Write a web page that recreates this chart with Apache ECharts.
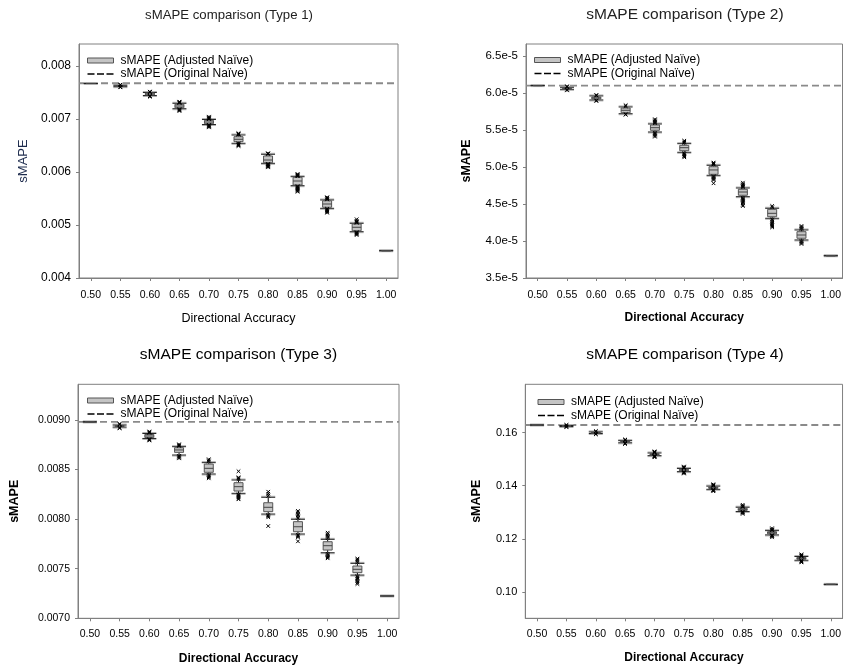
<!DOCTYPE html>
<html>
<head>
<meta charset="utf-8">
<script src="https://cdn.jsdelivr.net/npm/echarts@6/dist/echarts.min.js"></script>
<style>html,body{margin:0;padding:0;background:#fff}#c{width:844px;height:668px}</style>
</head>
<body>
<div id="c"></div>
<script>
// ---------------- DATA ----------------
const categories = [0.50, 0.55, 0.60, 0.65, 0.70, 0.75, 0.80, 0.85, 0.90, 0.95, 1.00];
const panelTitles = ['sMAPE comparison (Type 1)', 'sMAPE comparison (Type 2)', 'sMAPE comparison (Type 3)', 'sMAPE comparison (Type 4)'];
const seriesAdjusted = 'sMAPE (Adjusted Naïve)';
const seriesOriginal = 'sMAPE (Original Naïve)';
const xAxisTitle = 'Directional Accuracy';
const yAxisTitle = 'sMAPE';

// box values per category: [p10, q1, median, q3, p90]
const type1Boxes = [
  [0.007670, 0.007670, 0.007670, 0.007670, 0.007670],
  [0.007610, 0.007617, 0.007623, 0.007628, 0.007636],
  [0.007443, 0.007453, 0.007472, 0.007491, 0.007500],
  [0.007194, 0.007213, 0.007245, 0.007277, 0.007296],
  [0.006896, 0.006911, 0.006943, 0.006975, 0.006990],
  [0.006542, 0.006572, 0.006617, 0.006666, 0.006698],
  [0.006164, 0.006175, 0.006226, 0.006302, 0.006334],
  [0.005742, 0.005755, 0.005830, 0.005900, 0.005911],
  [0.005315, 0.005334, 0.005396, 0.005458, 0.005472],
  [0.004874, 0.004892, 0.004957, 0.005019, 0.005032],
  [0.004515, 0.004515, 0.004515, 0.004515, 0.004515]
];
const type1Outliers = [
  [],
  [0.007642, 0.007648, 0.007604, 0.007598],
  [0.007506, 0.007511, 0.007515, 0.007437, 0.007430, 0.007421],
  [0.007303, 0.007310, 0.007318, 0.007326, 0.007186, 0.007176, 0.007164, 0.007151],
  [0.006998, 0.007008, 0.007018, 0.007030, 0.007043, 0.006888, 0.006878, 0.006866, 0.006855, 0.006843],
  [0.006706, 0.006714, 0.006722, 0.006730, 0.006534, 0.006524, 0.006513, 0.006502, 0.006491],
  [0.006341, 0.006347, 0.006353, 0.006156, 0.006145, 0.006134, 0.006122, 0.006111, 0.006100, 0.006089],
  [0.005921, 0.005931, 0.005942, 0.005952, 0.005962, 0.005732, 0.005718, 0.005703, 0.005688, 0.005673, 0.005658, 0.005643, 0.005628],
  [0.005482, 0.005494, 0.005506, 0.005515, 0.005523, 0.005305, 0.005292, 0.005278, 0.005263, 0.005248, 0.005232],
  [0.005042, 0.005052, 0.005064, 0.005078, 0.005108, 0.004864, 0.004852, 0.004840, 0.004827, 0.004811],
  []
];
const type1Original = 0.007674;

const type2Boxes = [
  [6.100e-5, 6.100e-5, 6.100e-5, 6.100e-5, 6.100e-5],
  [6.050e-5, 6.057e-5, 6.064e-5, 6.070e-5, 6.077e-5],
  [5.906e-5, 5.919e-5, 5.933e-5, 5.946e-5, 5.960e-5],
  [5.720e-5, 5.734e-5, 5.766e-5, 5.797e-5, 5.811e-5],
  [5.473e-5, 5.496e-5, 5.531e-5, 5.568e-5, 5.581e-5],
  [5.199e-5, 5.220e-5, 5.261e-5, 5.293e-5, 5.315e-5],
  [4.888e-5, 4.901e-5, 4.960e-5, 5.004e-5, 5.023e-5],
  [4.599e-5, 4.618e-5, 4.662e-5, 4.699e-5, 4.716e-5],
  [4.307e-5, 4.328e-5, 4.374e-5, 4.428e-5, 4.442e-5],
  [4.014e-5, 4.037e-5, 4.081e-5, 4.126e-5, 4.149e-5],
  [3.801e-5, 3.801e-5, 3.801e-5, 3.801e-5, 3.801e-5]
];
const type2Outliers = [
  [],
  [6.083e-5, 6.090e-5, 6.044e-5, 6.036e-5],
  [5.966e-5, 5.973e-5, 5.899e-5, 5.892e-5],
  [5.822e-5, 5.834e-5, 5.713e-5, 5.707e-5],
  [5.592e-5, 5.605e-5, 5.618e-5, 5.632e-5, 5.645e-5, 5.462e-5, 5.450e-5, 5.437e-5, 5.423e-5, 5.410e-5],
  [5.327e-5, 5.341e-5, 5.355e-5, 5.186e-5, 5.172e-5, 5.158e-5, 5.145e-5, 5.131e-5],
  [5.035e-5, 5.047e-5, 5.059e-5, 4.876e-5, 4.863e-5, 4.850e-5, 4.837e-5, 4.824e-5, 4.780e-5],
  [4.729e-5, 4.742e-5, 4.755e-5, 4.768e-5, 4.788e-5, 4.585e-5, 4.570e-5, 4.555e-5, 4.540e-5, 4.525e-5, 4.510e-5, 4.490e-5, 4.473e-5],
  [4.455e-5, 4.473e-5, 4.293e-5, 4.278e-5, 4.262e-5, 4.246e-5, 4.230e-5, 4.215e-5, 4.200e-5, 4.185e-5],
  [4.162e-5, 4.176e-5, 4.190e-5, 4.203e-5, 4.000e-5, 3.987e-5, 3.973e-5, 3.960e-5],
  []
];
const type2Original = 6.10e-5;

const type3Boxes = [
  [0.008980, 0.008980, 0.008980, 0.008980, 0.008980],
  [0.008928, 0.008933, 0.008938, 0.008943, 0.008948],
  [0.008813, 0.008823, 0.008838, 0.008853, 0.008863],
  [0.008646, 0.008673, 0.008697, 0.008720, 0.008730],
  [0.008455, 0.008472, 0.008512, 0.008555, 0.008569],
  [0.008260, 0.008283, 0.008327, 0.008367, 0.008394],
  [0.008051, 0.008075, 0.008119, 0.008165, 0.008220],
  [0.007850, 0.007873, 0.007923, 0.007974, 0.007998],
  [0.007661, 0.007688, 0.007732, 0.007772, 0.007796],
  [0.007436, 0.007460, 0.007494, 0.007527, 0.007554],
  [0.007225, 0.007225, 0.007225, 0.007225, 0.007225]
];
const type3Outliers = [
  [],
  [0.008955, 0.008960, 0.008921, 0.008916],
  [0.008870, 0.008876, 0.008883, 0.008806, 0.008800, 0.008793],
  [0.008738, 0.008746, 0.008754, 0.008638, 0.008630, 0.008621, 0.008613],
  [0.008581, 0.008592, 0.008603, 0.008445, 0.008433, 0.008422, 0.008411],
  [0.008403, 0.008412, 0.008421, 0.008482, 0.008250, 0.008240, 0.008230, 0.008220, 0.008210, 0.008200],
  [0.008235, 0.008255, 0.008276, 0.008042, 0.008030, 0.008018, 0.007930],
  [0.008012, 0.008026, 0.008040, 0.008054, 0.008068, 0.008082, 0.007840, 0.007828, 0.007817, 0.007776],
  [0.007808, 0.007820, 0.007833, 0.007848, 0.007863, 0.007650, 0.007638, 0.007626, 0.007615, 0.007605],
  [0.007565, 0.007578, 0.007590, 0.007601, 0.007425, 0.007412, 0.007400, 0.007387, 0.007374, 0.007360, 0.007346],
  []
];
const type3Original = 0.008980;

const type4Boxes = [
  [0.16290, 0.16290, 0.16290, 0.16290, 0.16290],
  [0.16234, 0.16243, 0.16253, 0.16263, 0.16272],
  [0.15970, 0.15985, 0.16000, 0.16015, 0.16030],
  [0.15620, 0.15640, 0.15660, 0.15680, 0.15700],
  [0.15135, 0.15160, 0.15185, 0.15210, 0.15235],
  [0.14532, 0.14562, 0.14592, 0.14622, 0.14652],
  [0.13865, 0.13895, 0.13925, 0.13955, 0.13985],
  [0.13029, 0.13069, 0.13109, 0.13149, 0.13189],
  [0.12146, 0.12186, 0.12226, 0.12266, 0.12306],
  [0.11190, 0.11225, 0.11260, 0.11295, 0.11330],
  [0.10279, 0.10279, 0.10279, 0.10279, 0.10279]
];
const type4Outliers = [
  [],
  [0.16280, 0.16293, 0.16225, 0.16213],
  [0.16040, 0.16060, 0.15960, 0.15940],
  [0.15710, 0.15730, 0.15740, 0.15610, 0.15590, 0.15580],
  [0.15245, 0.15260, 0.15275, 0.15295, 0.15125, 0.15110, 0.15095, 0.15075],
  [0.14665, 0.14680, 0.14698, 0.14722, 0.14520, 0.14505, 0.14487, 0.14462],
  [0.13998, 0.14012, 0.14030, 0.14055, 0.13852, 0.13838, 0.13820, 0.13795],
  [0.13200, 0.13218, 0.13238, 0.13279, 0.13018, 0.13000, 0.12980, 0.12939],
  [0.12318, 0.12335, 0.12355, 0.12396, 0.12134, 0.12117, 0.12097, 0.12056],
  [0.11342, 0.11358, 0.11375, 0.11410, 0.11178, 0.11162, 0.11145, 0.11110],
  []
];
const type4Original = 0.16290;

// y-axis tick values and axis ranges
const type1YTicks = [0.004, 0.005, 0.006, 0.007, 0.008];
const type2YTicks = [3.5e-5, 4.0e-5, 4.5e-5, 5.0e-5, 5.5e-5, 6.0e-5, 6.5e-5];
const type3YTicks = [0.0070, 0.0075, 0.0080, 0.0085, 0.0090];
const type4YTicks = [0.10, 0.12, 0.14, 0.16];
const yRanges = [[0.004, 0.008415], [3.5e-5, 6.662e-5], [0.0070, 0.009359], [0.09, 0.17826]];
const xRange = [0.48, 1.02];

// ---------------- LAYOUT / STYLE ----------------
const FONT = 'Liberation Sans, Arial, sans-serif';
const panels = [
  { boxes: type1Boxes, outliers: type1Outliers, original: type1Original, yTicks: type1YTicks, yRange: yRanges[0],
    grid: { left: 79, top: 44, width: 319, height: 234 }, titleX: 229, titleTop: 8.5, titleSize: 13.2, titleColor: '#222',
    legend: { left: 87, top: 54.5 }, yFmt: v => v.toFixed(3), yLabelSize: 12,
    xNameGap: 34, yNameGap: 49.5, nameWeight: 'normal', yNameColor: '#1d2b4d', xNameSize: 12.5, yNameSize: 13, labelMargin: 12 },
  { boxes: type2Boxes, outliers: type2Outliers, original: type2Original, yTicks: type2YTicks, yRange: yRanges[1],
    grid: { left: 526, top: 44, width: 318, height: 234 }, titleX: 685, titleTop: 7, titleSize: 15.5, titleColor: '#222',
    legend: { left: 534, top: 54 }, yFmt: v => (v * 1e5).toFixed(1) + 'e-5', yLabelSize: 11.5,
    xNameGap: 34, yNameGap: 53, nameWeight: 'bold', yNameColor: '#000', xNameSize: 12, yNameSize: 12.5, labelMargin: 12 },
  { boxes: type3Boxes, outliers: type3Outliers, original: type3Original, yTicks: type3YTicks, yRange: yRanges[2],
    grid: { left: 78, top: 384.3, width: 321, height: 234 }, titleX: 238.5, titleTop: 347, titleSize: 15.5, titleColor: '#000',
    legend: { left: 87, top: 394.5 }, yFmt: v => v.toFixed(4), yLabelSize: 10.5,
    xNameGap: 34, yNameGap: 57, nameWeight: 'bold', yNameColor: '#000', xNameSize: 12, yNameSize: 12.5, labelMargin: 10.5 },
  { boxes: type4Boxes, outliers: type4Outliers, original: type4Original, yTicks: type4YTicks, yRange: yRanges[3],
    grid: { left: 525.3, top: 384.3, width: 318.5, height: 234 }, titleX: 685, titleTop: 347, titleSize: 15.5, titleColor: '#000',
    legend: { left: 537.5, top: 396 }, yFmt: v => v.toFixed(2), yLabelSize: 11,
    xNameGap: 33, yNameGap: 42, nameWeight: 'bold', yNameColor: '#000', xNameSize: 12, yNameSize: 12.5, labelMargin: 10.5 }
];

const AXIS_COLOR = '#808080';
const DASH_ICON = 'path://M0,0L0,5Z M0,1.7H7V3.3H0Z M9.5,1.7H16.5V3.3H9.5Z M19,1.7H26V3.3H19Z';

function seg(x1, y1, x2, y2, stroke, w, dash) {
  const style = { stroke, lineWidth: w || 1 };
  if (dash) style.lineDash = dash;
  return { type: 'line', shape: { x1, y1, x2, y2 }, style };
}
function renderBox(params, api) {
  const x = api.value(0);
  const p = [1, 2, 3, 4, 5].map(i => api.coord([x, api.value(i)]));
  const cx = p[0][0];
  const yP10 = p[0][1], yQ1 = p[1][1], yMed = p[2][1], yQ3 = p[3][1], yP90 = p[4][1];
  const bw = 4.5, cw = 7;
  return {
    type: 'group',
    children: [
      seg(cx, yP10, cx, yQ1, '#000'),
      seg(cx, yQ3, cx, yP90, '#000'),
      seg(cx - cw, yP10 + 1, cx + cw, yP10 + 1, '#b0b0b0'),
      seg(cx - cw, yP90 - 1, cx + cw, yP90 - 1, '#b0b0b0'),
      seg(cx - cw, yP10, cx + cw, yP10, '#222'),
      seg(cx - cw, yP90, cx + cw, yP90, '#222'),
      { type: 'rect', shape: { x: cx - bw, y: yQ3, width: 2 * bw, height: yQ1 - yQ3 },
        style: { fill: '#c4c4c4', stroke: '#555', lineWidth: 1 } },
      seg(cx - bw, yMed, cx + bw, yMed, '#444')
    ]
  };
}
function renderOutlier(params, api) {
  const c = api.coord([api.value(0), api.value(1)]);
  const s = 1.8;
  return {
    type: 'group',
    children: [
      seg(c[0] - s, c[1] - s, c[0] + s, c[1] + s, '#000', 1),
      seg(c[0] - s, c[1] + s, c[0] + s, c[1] - s, '#000', 1)
    ]
  };
}
function renderReference(params, api) {
  const a = api.coord([api.value(0), api.value(2)]);
  const b = api.coord([api.value(1), api.value(2)]);
  return seg(a[0], a[1], b[0], b[1], '#8a8a8a', 1.8, [7, 4]);
}

const option = {
  animation: false,
  backgroundColor: '#fff',
  textStyle: { fontFamily: FONT },
  title: [], grid: [], xAxis: [], yAxis: [], legend: [], series: []
};

panels.forEach((pn, i) => {
  option.title.push({
    text: panelTitles[i], left: pn.titleX, top: pn.titleTop, textAlign: 'center', padding: 0,
    textStyle: { fontFamily: FONT, fontSize: pn.titleSize, fontWeight: 'normal', color: pn.titleColor }
  });
  option.grid.push(Object.assign({ show: true, borderColor: AXIS_COLOR, borderWidth: 1, backgroundColor: 'transparent' }, pn.grid));
  option.xAxis.push({
    type: 'value', gridIndex: i, min: xRange[0], max: xRange[1],
    name: xAxisTitle, nameLocation: 'middle', nameGap: pn.xNameGap,
    nameTextStyle: { fontFamily: FONT, fontSize: pn.xNameSize, fontWeight: pn.nameWeight, color: '#000' },
    axisLine: { show: true, lineStyle: { color: AXIS_COLOR, width: 1 } },
    axisTick: { show: true, length: 3, lineStyle: { color: AXIS_COLOR }, customValues: categories },
    axisLabel: { show: true, customValues: categories, margin: pn.labelMargin, formatter: v => v.toFixed(2),
      fontFamily: FONT, fontSize: 10.5, color: '#000' },
    splitLine: { show: false }
  });
  option.yAxis.push({
    type: 'value', gridIndex: i, min: pn.yRange[0], max: pn.yRange[1],
    name: yAxisTitle, nameLocation: 'middle', nameGap: pn.yNameGap,
    nameTextStyle: { fontFamily: FONT, fontSize: pn.yNameSize, fontWeight: pn.nameWeight, color: pn.yNameColor },
    axisLine: { show: true, lineStyle: { color: AXIS_COLOR, width: 1 } },
    axisTick: { show: true, length: 3, lineStyle: { color: AXIS_COLOR }, customValues: pn.yTicks },
    axisLabel: { show: true, customValues: pn.yTicks, margin: 8, formatter: pn.yFmt,
      fontFamily: FONT, fontSize: pn.yLabelSize, color: '#000' },
    splitLine: { show: false }
  });
  option.legend.push({
    orient: 'vertical', left: pn.legend.left, top: pn.legend.top, padding: 0,
    itemWidth: 26, itemHeight: 5, itemGap: 1.5, selectedMode: false,
    textStyle: { fontFamily: FONT, fontSize: 12, color: '#000', padding: [0, 0, 0, 2] },
    data: [
      { name: seriesAdjusted, icon: 'rect', itemStyle: { color: '#c4c4c4', borderColor: '#555', borderWidth: 1 } },
      { name: seriesOriginal, icon: DASH_ICON, itemStyle: { color: '#000', borderWidth: 0 } }
    ]
  });
  const boxData = categories.map((c, k) => [c].concat(pn.boxes[k]));
  const outData = [];
  categories.forEach((c, k) => pn.outliers[k].forEach(v => outData.push([c, v])));
  option.series.push({
    name: seriesOriginal, type: 'custom', xAxisIndex: i, yAxisIndex: i,
    data: [[xRange[0], xRange[1], pn.original]],
    renderItem: renderReference, itemStyle: { color: '#000' }, z: 1,
    encode: { x: [0, 1], y: 2 }
  });
  option.series.push({
    name: seriesAdjusted, type: 'custom', xAxisIndex: i, yAxisIndex: i, data: boxData,
    renderItem: renderBox, itemStyle: { color: '#c4c4c4' }, z: 3,
    encode: { x: 0, y: [1, 2, 3, 4, 5] }
  });
  option.series.push({
    name: 'outliers', type: 'custom', xAxisIndex: i, yAxisIndex: i, data: outData,
    renderItem: renderOutlier, z: 4, encode: { x: 0, y: 1 }
  });
});

const chart = echarts.init(document.getElementById('c'));
chart.setOption(option);
</script>
</body>
</html>
